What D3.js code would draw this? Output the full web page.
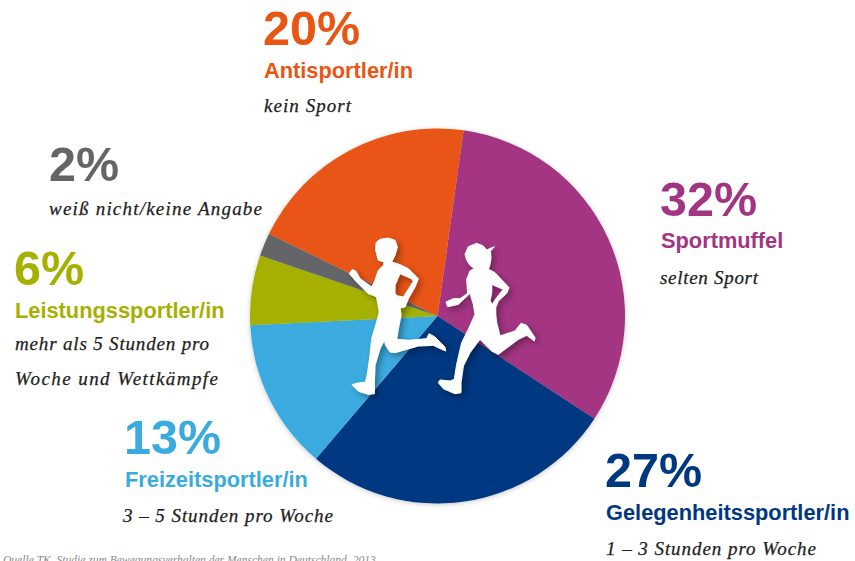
<!DOCTYPE html>
<html><head><meta charset="utf-8">
<script src="https://cdn.jsdelivr.net/npm/d3@7/dist/d3.min.js"></script>
<style>html,body{margin:0;padding:0;background:#fff;overflow:hidden}svg{display:block}
.pct{font:bold 48.5px "Liberation Sans",sans-serif}
.cat{font:bold 21.8px "Liberation Sans",sans-serif}
.note{font:italic 19px "Liberation Serif",serif;fill:#1d1d1b;stroke:#1d1d1b;stroke-width:.25}
.src{font:italic 11.55px "Liberation Serif",serif;fill:#8a8a8a}
</style></head><body>
<script>
const categories=["Sportmuffel","Gelegenheitssportler/in","Freizeitsportler/in","Leistungssportler/in","","Antisportler/in"];
const values=[32,27,13,6,2,20];
const colors=["#a33482","#003781","#3aabdf","#a5b000","#646567","#e95513"];
const notes=[["selten Sport"],["1 – 3 Stunden pro Woche"],["3 – 5 Stunden pro Woche"],["mehr als 5 Stunden pro","Woche und Wettkämpfe"],["weiß nicht/keine Angabe"],["kein Sport"]];
const source="Quelle TK, Studie zum Bewegungsverhalten der Menschen in Deutschland, 2013";

const W=855,H=561,cx=437.5,cy=316,R=187.5,startDeg=8;
const anchors=[
 {x:660,p:216,c:248,n:284,nx:660,w:[98]},
 {x:605,p:487,c:520,n:555,nx:606,w:[210]},
 {x:124,p:454,c:487,n:522,nx:123,w:[210]},
 {x:14,p:285,c:318,n:350,nx:15,w:[194,203]},
 {x:49,p:181,c:null,n:215,nx:49,w:[213]},
 {x:263,p:45,c:78,n:112,nx:264,w:[87]}];
const noteLeading=35;

const svg=d3.select("body").append("svg").attr("width",W).attr("height",H);
const defs=svg.append("defs");
const f=defs.append("filter").attr("id","ds").attr("x","-20%").attr("y","-20%").attr("width","150%").attr("height","150%");
f.append("feDropShadow").attr("dx",3).attr("dy",3).attr("stdDeviation",3).attr("flood-color","#000").attr("flood-opacity",.35);
const fp=defs.append("filter").attr("id","pieS").attr("x","-10%").attr("y","-10%").attr("width","120%").attr("height","120%");
fp.append("feDropShadow").attr("dx",0).attr("dy",1).attr("stdDeviation",2.5).attr("flood-color","#000").attr("flood-opacity",.22);

const pie=d3.pie().sort(null).startAngle(startDeg*Math.PI/180).endAngle((startDeg+360)*Math.PI/180)(values);
const arc=d3.arc().innerRadius(0).outerRadius(R);
svg.append("g").attr("transform",`translate(${cx},${cy})`).attr("filter","url(#pieS)")
 .selectAll("path").data(pie).join("path").attr("d",arc).attr("fill",(d,i)=>colors[i]);

// decorative runner silhouettes, traced at 3x
const runners=[
 {o:[345,232],d:"M93,32L105,22L130,18L150,25L157,45L150,70L140,90L165,98L190,110L220,140L210,165L190,200L180,225L165,228L168,250L160,290L155,322L190,325L245,320L252,305L270,315L300,345L302,357L290,352L265,340L220,342L150,362L135,360L122,340L118,325L105,350L90,400L88,450L88,485L70,487L40,478L21,458L35,454L62,450L68,420L75,370L80,320L95,270L103,240L95,195L85,190L70,185L35,150L13,125L22,112L33,118L45,140L80,165L88,150L100,115L115,100L118,90L100,85L96,70L92,55ZM165,125L200,140L205,148L175,195L158,192L150,185L150,160Z"},
 {o:[435,236],d:"M90,55L100,32L125,22L145,30L155,42L178,32L166,46L168,65L165,85L160,100L180,110L222,155L215,172L190,195L182,215L182,235L185,260L195,300L240,285L258,262L275,268L300,305L298,315L275,298L250,310L190,355L170,345L135,310L105,350L85,390L78,440L78,470L60,473L25,458L10,440L15,432L45,435L58,430L65,385L80,320L100,280L120,235L115,205L105,172L70,205L38,212L33,198L55,188L75,188L98,172L95,130L105,105L118,97L105,88L95,72ZM170,145L205,160L185,185L172,205L165,195L170,170Z"}];
svg.append("g").attr("filter","url(#ds)").selectAll("path").data(runners).join("path")
 .attr("transform",r=>`translate(${r.o[0]},${r.o[1]}) scale(0.3333)`).attr("d",r=>r.d)
 .attr("fill","#fff").attr("fill-rule","evenodd").attr("stroke","#fff").attr("stroke-width",3).attr("stroke-linejoin","round");

values.forEach((v,i)=>{
 const a=anchors[i],g=svg.append("g");
 g.append("text").attr("class","pct").attr("x",a.x).attr("y",a.p).attr("fill",colors[i]).text(v+"%");
 if(categories[i]) g.append("text").attr("class","cat").attr("x",a.x+1).attr("y",a.c).attr("fill",colors[i]).text(categories[i]);
 g.selectAll("text.note").data(notes[i]).join("text").attr("class","note").attr("x",a.nx).attr("y",(t,j)=>a.n+j*noteLeading)
  .attr("textLength",(t,j)=>a.w[j]).attr("lengthAdjust","spacing").text(t=>t);
});
svg.append("text").attr("class","src").attr("x",3).attr("y",564).text(source);
</script></body></html>
